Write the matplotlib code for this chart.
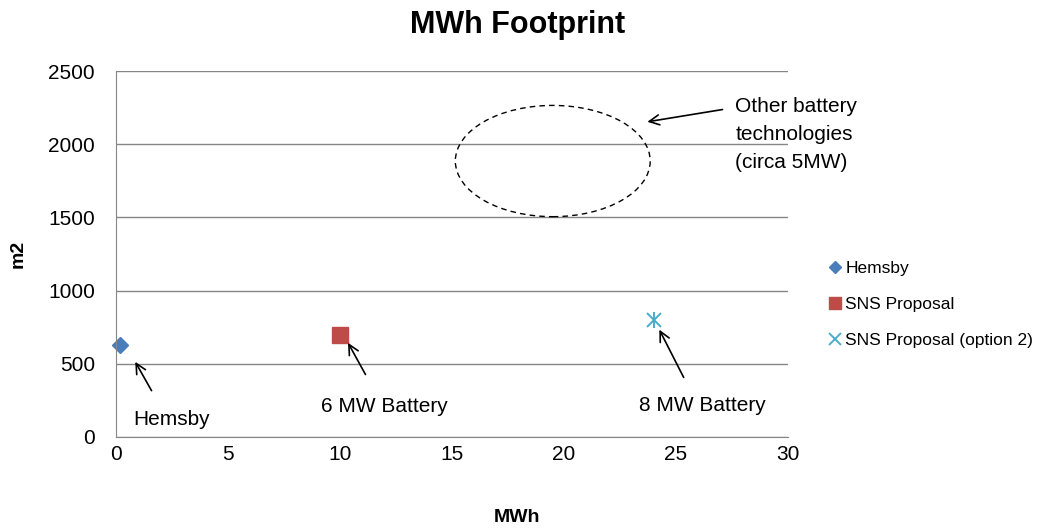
import matplotlib.pyplot as plt
from matplotlib.patches import Ellipse

# data
series_names = ["Hemsby", "SNS Proposal", "SNS Proposal (option 2)"]
mwh = [0.2, 10, 24]
area_m2 = [630, 700, 800]
markers = ["D", "s", "x"]
colors = ["#4a7ebb", "#be4b48", "#4bacc6"]
marker_sizes = [8, 11, 10]

point_labels = ["Hemsby", "6 MW Battery", "8 MW Battery"]

plt.rcParams["font.family"] = ["Liberation Sans", "DejaVu Sans"]

fig = plt.figure(figsize=(10.39, 5.30), dpi=100)
ax = fig.add_axes([0.1116, 0.1755, 0.6468, 0.6905])

for name, x, y, m, c, s in zip(series_names, mwh, area_m2, markers, colors, marker_sizes):
    if m == "x":
        ax.plot(x, y, marker="x", color=c, markersize=s, mew=1.4, linestyle="none",
                label=name, clip_on=False)
        ax.plot(x, y, marker="|", color=c, markersize=s + 2, mew=1.4, linestyle="none")
    else:
        ax.plot(x, y, marker=m, color=c, markersize=s, linestyle="none",
                label=name, clip_on=False)

ax.set_xlim(0, 30)
ax.set_ylim(0, 2500)
ax.set_xticks(range(0, 31, 5))
ax.set_yticks(range(0, 2501, 500))
ax.tick_params(length=0, labelsize=15)
ax.tick_params(axis="y", pad=15)
ax.tick_params(axis="x", pad=6)
ax.yaxis.grid(True, color="#868686", linewidth=1)
ax.set_axisbelow(True)
for side in ["top", "right"]:
    ax.spines[side].set_visible(False)
for side in ["left", "bottom"]:
    ax.spines[side].set_color("#868686")

fig.text(0.498, 0.952, "MWh Footprint", fontsize=22, fontweight="bold", ha="center", va="center")
fig.text(0.498, 0.023, "MWh", fontsize=14, fontweight="bold", ha="center", va="center")
fig.text(0.017, 0.52, "m2", fontsize=14, fontweight="bold", ha="center", va="center",
         rotation=90)

arrow = dict(arrowstyle="->", color="black", lw=1.2, mutation_scale=18)

# point callouts
ax.annotate("", xy=(0.8, 530), xytext=(1.65, 300), arrowprops=arrow)
ax.text(0.75, 120, point_labels[0], fontsize=15, ha="left", va="center")
ax.annotate("", xy=(10.3, 660), xytext=(11.2, 410), arrowprops=arrow)
ax.text(12.0, 210, point_labels[1], fontsize=15, ha="center", va="center")
ax.annotate("", xy=(24.2, 750), xytext=(25.4, 390), arrowprops=arrow)
ax.text(26.2, 215, point_labels[2], fontsize=15, ha="center", va="center")

# dashed ellipse for other technologies
ax.add_patch(Ellipse((19.5, 1885), width=8.7, height=760, fill=False,
                     linestyle=(0, (4, 3)), edgecolor="black", linewidth=1))
ax.annotate("", xy=(23.6, 2150), xytext=(27.2, 2240), arrowprops=arrow)
ax.text(27.65, 2065, "Other battery\ntechnologies\n(circa 5MW)", fontsize=15,
        ha="left", va="center", linespacing=1.6, clip_on=False)

ax.legend(loc="center left", bbox_to_anchor=(1.045, 0.362), frameon=False,
          fontsize=12.5, handletextpad=0.15, labelspacing=1.2, markerscale=0.8,
          handlelength=0.9, borderpad=0)

fig.savefig("out.png", dpi=100)
